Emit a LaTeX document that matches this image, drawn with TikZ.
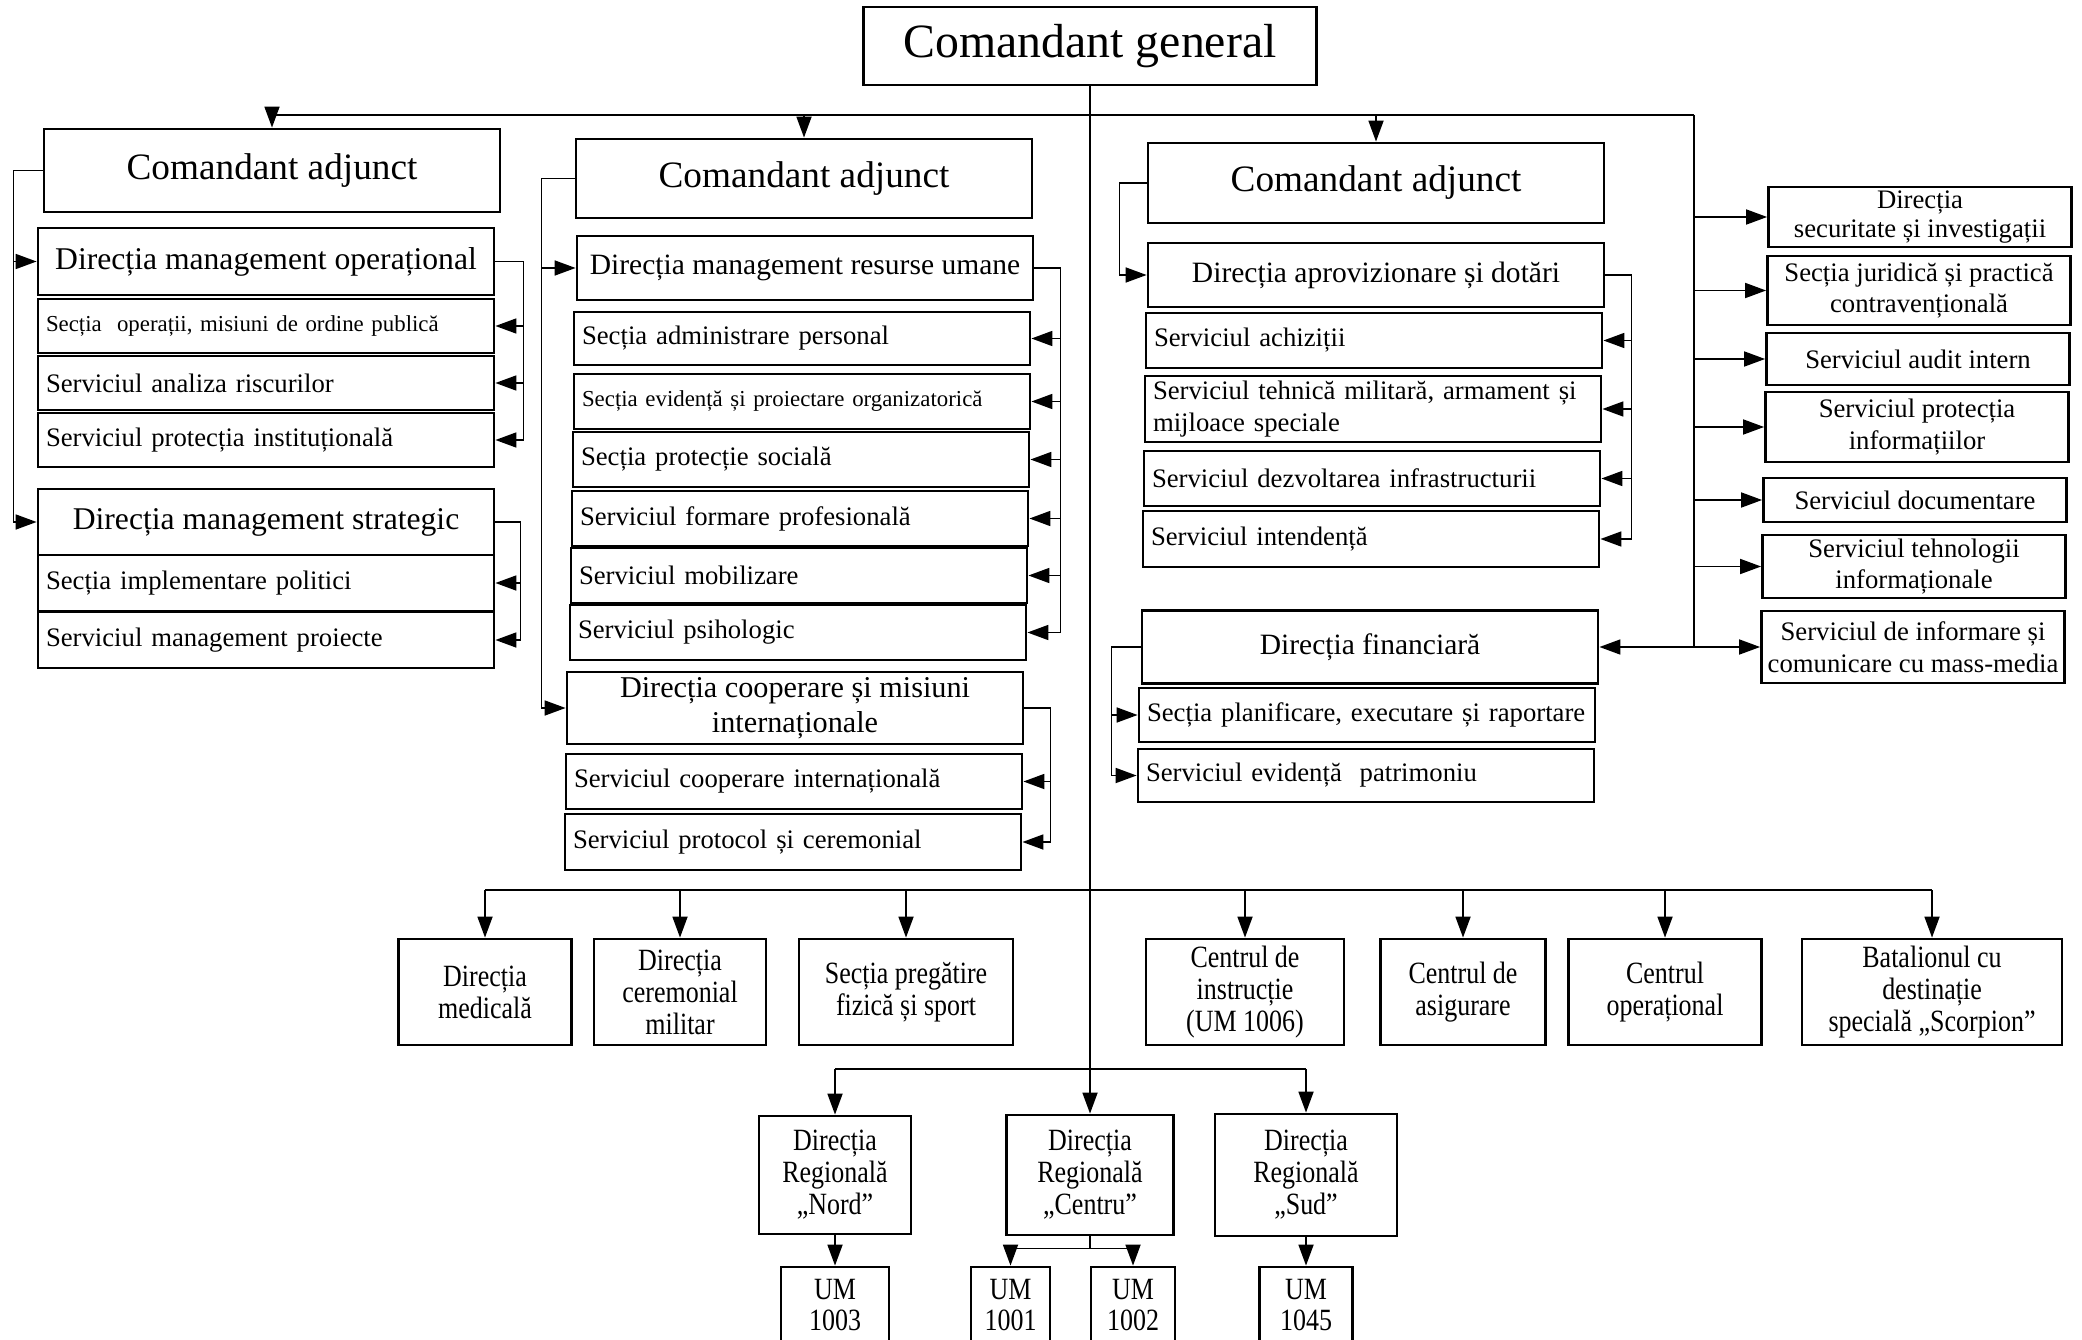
\documentclass[tikz,border=0pt]{standalone}
\usepackage{fontspec}
\setmainfont{Liberation Serif}
\newfontfamily\condfont[FakeStretch=0.84]{Liberation Serif}
\usetikzlibrary{arrows.meta}

\tikzset{
  box/.style={draw, line width=0.8pt, inner sep=0pt, align=center},
  top/.style={box, minimum width=4.56cm, font=\fontsize{10.6}{12}\selectfont},
  head/.style={box, minimum width=4.56cm, font=\fontsize{8.4}{10}\selectfont},
  sub/.style={box, align=left, text width=4.40cm, inner xsep=0.08cm, font=\fontsize{7.6}{9}\selectfont},
  small/.style={font=\fontsize{6.5}{8}\selectfont},
  side/.style={box, minimum width=3.03cm, font=\fontsize{7.6}{9}\selectfont},
  low/.style={box, font=\condfont\fontsize{8.8}{9.1}\selectfont},
}

\begin{document}
\begin{tikzpicture}[x=1cm, y=-1cm, line width=0.5pt, >={Triangle[length=2.1mm,width=1.5mm]}]
        \useasboundingbox (0,0) rectangle (20.82,13.40);
        \clip (0,0) rectangle (20.82,13.40);

        \path
        (10.90,0.46) node[box, minimum width=4.53cm, minimum height=0.78cm, font=\fontsize{13.6}{15}\selectfont] (gen) {Comandant general}

        % left
        (2.72,1.705) node[top, minimum height=0.83cm] (CA1) {Comandant adjunct}
        (2.66,2.615) node[head, minimum height=0.67cm, font=\fontsize{9}{10}\selectfont] (DMO) {Direcția management operațional}
        (2.66,3.26) node[sub, small, minimum height=0.54cm] (so1) {Secția~ operații, misiuni de ordine publică}
        (2.66,3.83) node[sub, minimum height=0.54cm] (so2) {Serviciul analiza riscurilor}
        (2.66,4.40) node[sub, minimum height=0.54cm] (so3) {Serviciul protecția instituțională}
        (2.66,5.22) node[head, minimum height=0.66cm, font=\fontsize{9}{10}\selectfont] (DMS) {Direcția management strategic}
        (2.66,5.83) node[sub, minimum height=0.56cm] (ss1) {Secția implementare politici}
        (2.66,6.40) node[sub, minimum height=0.56cm] (ss2) {Serviciul management proiecte}

        % middle
        (8.04,1.785) node[top, minimum height=0.79cm] (CA2) {Comandant adjunct}
        (8.05,2.68) node[head, minimum height=0.64cm] (DMRU) {Direcția management resurse umane}
        (8.02,3.385) node[sub, minimum height=0.53cm] (r1) {Secția administrare personal}
        (8.02,4.015) node[sub, small, minimum height=0.55cm] (r2) {Secția evidență și proiectare organizatorică}
        (8.01,4.595) node[sub, minimum height=0.55cm] (r3) {Secția protecție socială}
        (8.00,5.185) node[sub, minimum height=0.55cm] (r4) {Serviciul formare profesională}
        (7.99,5.755) node[sub, minimum height=0.55cm] (r5) {Serviciul mobilizare}
        (7.98,6.325) node[sub, minimum height=0.55cm] (r6) {Serviciul psihologic}
        (7.95,7.08) node[head, minimum height=0.72cm, font=\fontsize{8.6}{10}\selectfont] (DCMI) {Direcția cooperare și misiuni\\internaționale}
        (7.94,7.815) node[sub, minimum height=0.55cm] (c1) {Serviciul cooperare internațională}
        (7.93,8.42) node[sub, minimum height=0.56cm] (c2) {Serviciul protocol și ceremonial}

        % right
        (13.76,1.83) node[top, minimum height=0.80cm] (CA3) {Comandant adjunct}
        (13.76,2.75) node[head, minimum height=0.64cm] (DAD) {Direcția aprovizionare și dotări}
        (13.74,3.405) node[sub, minimum height=0.55cm] (a1) {Serviciul achiziții}
        (13.73,4.09) node[sub, minimum height=0.66cm] (a2) {Serviciul tehnică militară, armament și\\mijloace speciale}
        (13.72,4.785) node[sub, minimum height=0.55cm] (a3) {Serviciul dezvoltarea infrastructurii}
        (13.71,5.39) node[sub, minimum height=0.56cm] (a4) {Serviciul intendență}
        (13.70,6.47) node[head, minimum height=0.73cm] (DF) {Direcția financiară}
        (13.67,7.15) node[sub, minimum height=0.54cm] (f1) {Secția planificare, executare și raportare}
        (13.66,7.755) node[sub, minimum height=0.53cm] (f2) {Serviciul evidență~ patrimoniu}

        % far right
        (19.20,2.17) node[side, minimum height=0.60cm, font=\fontsize{7.6}{8.4}\selectfont] (q1) {Direcția\\securitate și investigații}
        (19.19,2.905) node[side, minimum height=0.69cm] (q2) {Secția juridică și practică\\contravențională}
        (19.18,3.59) node[side, minimum height=0.52cm] (q3) {Serviciul audit intern}
        (19.17,4.27) node[side, minimum height=0.70cm] (q4) {Serviciul protecția\\informațiilor}
        (19.15,5.00) node[side, minimum height=0.44cm] (q5) {Serviciul documentare}
        (19.14,5.665) node[side, minimum height=0.63cm] (q6) {Serviciul tehnologii\\informaționale}
        (19.13,6.47) node[side, minimum height=0.72cm] (q7) {Serviciul de informare și\\comunicare cu mass-media}

        % bottom row
        (4.85,9.92) node[low, minimum width=1.73cm, minimum height=1.06cm] (b1) {Direcția\\medicală}
        (6.80,9.92) node[low, minimum width=1.72cm, minimum height=1.06cm] (b2) {Direcția\\ceremonial\\militar}
        (9.06,9.92) node[low, minimum width=2.14cm, minimum height=1.06cm] (b3) {Secția pregătire\\fizică și sport}
        (12.45,9.92) node[low, minimum width=1.98cm, minimum height=1.06cm] (b4) {Centrul de\\instrucție\\(UM 1006)}
        (14.63,9.92) node[low, minimum width=1.65cm, minimum height=1.06cm] (b5) {Centrul de\\asigurare}
        (16.65,9.92) node[low, minimum width=1.93cm, minimum height=1.06cm] (b6) {Centrul\\operațional}
        (19.32,9.92) node[low, minimum width=2.60cm, minimum height=1.06cm] (b7) {Batalionul cu\\destinație\\specială „Scorpion”}

        % regions
        (8.35,11.75) node[low, minimum width=1.52cm, minimum height=1.18cm] (DRN) {Direcția\\Regională\\„Nord”}
        (10.90,11.75) node[low, minimum width=1.67cm, minimum height=1.20cm] (DRC) {Direcția\\Regională\\„Centru”}
        (13.06,11.75) node[low, minimum width=1.82cm, minimum height=1.22cm] (DRS) {Direcția\\Regională\\„Sud”}
        (8.35,13.05) node[low, minimum width=1.08cm, minimum height=0.76cm] (UM3) {UM\\1003}
        (10.105,13.05) node[low, minimum width=0.79cm, minimum height=0.76cm] (UM1) {UM\\1001}
        (11.33,13.05) node[low, minimum width=0.84cm, minimum height=0.76cm] (UM2) {UM\\1002}
        (13.06,13.05) node[low, minimum width=0.93cm, minimum height=0.76cm] (UM45) {UM\\1045}
        ;

        % top lines
        \coordinate (tl) at (2.72,1.15);
        \coordinate (tr) at (16.94,1.15);
        \coordinate (rb) at (16.94,6.47);
        \draw (tl) -- (tr);
        \draw[->] (tl) -- (CA1);
        \draw[->] (CA2.north |- tl) -- (CA2);
        \draw[->] (CA3.north |- tl) -- (CA3);
        \draw[->] (gen) -- (DRC);

        \draw (tr) -- (rb);
        \foreach \n in {q1,q2,q3,q4,q5,q6}
          \draw[->] (tr |- \n) -- (\n);
        \draw[->] (rb) -- (q7);
        \draw[->] (rb) -- (DF);

        % left
        \draw[->] (CA1.west) -- ++(-0.29,0) |- (DMO);
        \draw[->] (CA1.west) -- ++(-0.29,0) |- (DMS);
        \foreach \n in {so1,so2,so3}
          \draw[->] (DMO.east) -- ++(0.28,0) |- (\n);
        \foreach \n in {ss1,ss2}
          \draw[->] (DMS.east) -- ++(0.25,0) |- (\n);

        % middle
        \draw[->] (CA2.west) -- ++(-0.33,0) |- (DMRU);
        \draw[->] (CA2.west) -- ++(-0.33,0) |- (DCMI);
        \foreach \n in {r1,r2,r3,r4,r5,r6}
          \draw[->] (DMRU.east) -- ++(0.26,0) |- (\n);
        \foreach \n in {c1,c2}
          \draw[->] (DCMI.east) -- ++(0.26,0) |- (\n);

        % right
        \draw[->] (CA3.west) -- ++(-0.27,0) |- (DAD);
        \foreach \n in {a1,a2,a3,a4}
          \draw[->] (DAD.east) -- ++(0.26,0) |- (\n);
        \foreach \n in {f1,f2}
          \draw[->] (DF.west) -- ++(-0.29,0) |- (\n);

        % bottom row
        \coordinate (bl) at (4.85,8.90);
        \coordinate (br) at (19.32,8.90);
        \draw (bl) -- (br);
        \foreach \i in {1,...,7}
          \draw[->] (b\i |- bl) -- (b\i);

        % regions
        \coordinate (ml) at (8.35,10.69);
        \coordinate (mr) at (13.06,10.69);
        \draw (ml) -- (mr);
        \draw[->] (ml) -- (DRN);
        \draw[->] (mr) -- (DRS);
        \draw[->] (DRN) -- (UM3);
        \draw[->] (DRS) -- (UM45);
        \draw (DRC.south) -- ++(0,0.12) coordinate (cs);
        \draw[->] (cs) -| (UM1);
        \draw[->] (cs) -| (UM2);
      \end{tikzpicture}
\end{document}
